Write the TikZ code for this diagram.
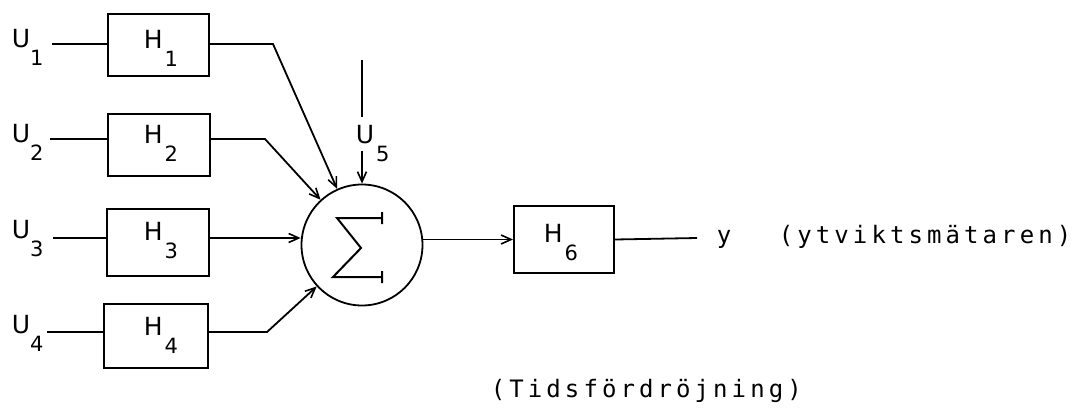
\documentclass[tikz,border=0pt]{standalone}
\usepackage{fontspec}
\setmainfont{DejaVu Sans}
\newfontfamily\plotmono[LetterSpace=17]{DejaVu Sans Mono}
\usetikzlibrary{arrows.meta}
\newcommand\sublbl[3]{\fontsize{25}{25}\selectfont #1\kern#3\raisebox{-18pt}{\fontsize{21}{21}\selectfont #2}}
\newcommand\plottext[1]{{\fontsize{24}{24}\plotmono #1}}
\begin{document}
\begin{tikzpicture}[x=1pt,y=-1pt,line width=1.8pt,
  blk/.style={draw,line width=2pt,inner sep=0,anchor=north west},
  lbl/.style={inner sep=0,anchor=base west},
  arr/.style={-{Straight Barb[length=10pt,width=9pt,line width=1.6pt]}}]
\useasboundingbox (0,0) rectangle (1078,407);
% blocks
\node[blk,minimum width=101,minimum height=62] (h1) at (107,13) {};
\node[blk,minimum width=102,minimum height=62] (h2) at (107,113) {};
\node[blk,minimum width=102,minimum height=67] (h3) at (106,208) {};
\node[blk,minimum width=104,minimum height=64] (h4) at (103,303) {};
\node[blk,minimum width=100,minimum height=67] (h6) at (513,205) {};
% block labels
\node[lbl] (h1t) at (143,48) {\sublbl{H}{1}{2pt}};
\node[lbl] (h2t) at (143,143) {\sublbl{H}{2}{2pt}};
\node[lbl] (h3t) at (143,240) {\sublbl{H}{3}{2pt}};
\node[lbl] (h4t) at (143,335) {\sublbl{H}{4}{2pt}};
\node[lbl] (h6t) at (543,242) {\sublbl{H}{6}{2pt}};
% input labels
\node[lbl] (u1) at (11,47) {\sublbl{U}{1}{0pt}};
\node[lbl] (u2) at (11,142) {\sublbl{U}{2}{0pt}};
\node[lbl] (u3) at (11,238) {\sublbl{U}{3}{0pt}};
\node[lbl] (u4) at (11,333) {\sublbl{U}{4}{0pt}};
\node[lbl] (u5) at (355,143) {\sublbl{U}{5}{2pt}};
% coordinates for input line starts
\coordinate (u1e) at (52,44);
\coordinate (u2e) at (50,139);
\coordinate (u3e) at (53,238);
\coordinate (u4e) at (47,332);
\draw (u1e) -- (u1e -| h1.west);
\draw (u2e) -- (u2e -| h2.west);
\draw (u3e) -- (u3e -| h3.west);
\draw (u4e) -- (u4e -| h4.west);
% summation
\node[draw,circle,minimum size=121,inner sep=0,line width=1.8pt] (sum) at (362,245) {};
\draw[line width=2pt] (382,212) -- (382,224)
  (382,218) -- (337,218) -- (361,248) -- (333,277) -- (382,277)
  (382,271) -- (382,283);
% branches into the sum
\coordinate (k1) at (273,44);
\coordinate (k2) at (265,139);
\coordinate (k4) at (267,332);
\draw[arr] (h1.east |- k1) -- (k1) -- (sum);
\draw[arr] (h2.east |- k2) -- (k2) -- (sum);
\draw[arr] (h3.east |- u3e) -- (u3e -| sum.west);
\draw[arr] (h4.east |- k4) -- (k4) -- (sum);
% U5
\coordinate (u5top) at (362,60);
\coordinate (u5a) at (362,117);
\coordinate (u5b) at (362,151);
\draw (u5top) -- (u5a);
\draw[arr] (u5b) -- (sum.north);
% output
\draw[arr] (h6.west -| sum.east) -- (h6.west);
\coordinate (yend) at (697,238);
\draw (h6.east) -- (yend);
\node[lbl] (ylab) at (716,243) {\plottext{y}};
\node[lbl] (ytv) at (778,243) {\plottext{(ytviktsmätaren)}};
\node[lbl] (tid) at (490,397) {\plottext{(Tidsfördröjning)}};
\end{tikzpicture}
\end{document}
